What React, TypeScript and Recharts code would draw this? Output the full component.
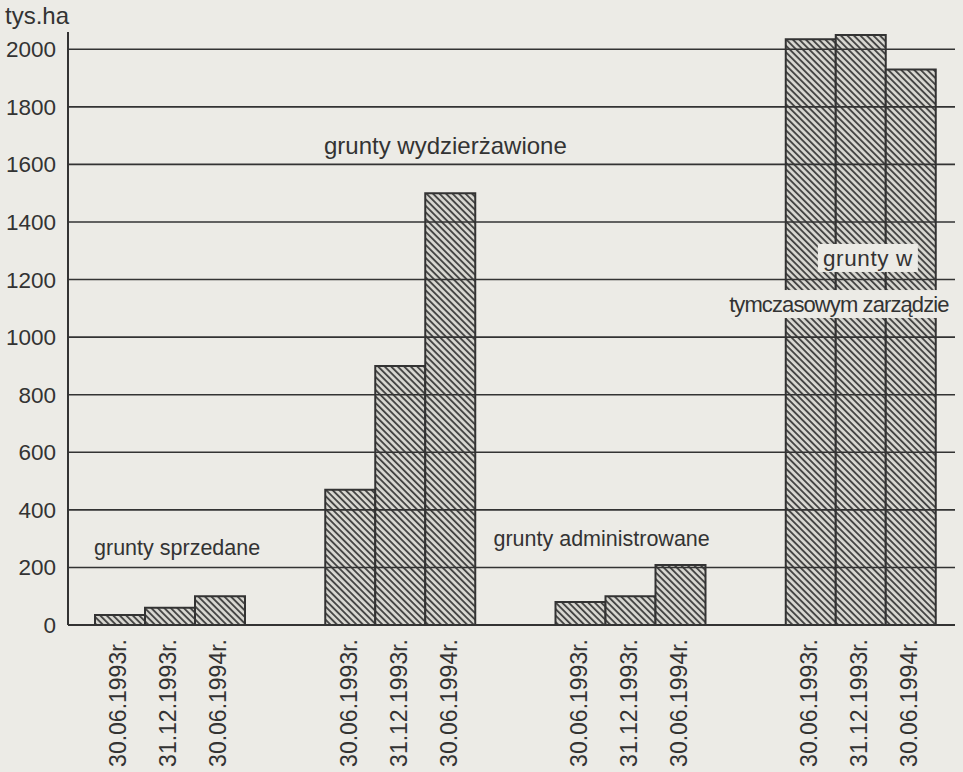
import { Bar, BarChart, ReferenceDot, ReferenceLine, XAxis, YAxis } from 'recharts'

const groups = ['sprzedane', 'wydzierżawione', 'administrowane', 'tymczasowe']
const dates = ['30.06.1993r.', '31.12.1993r.', '30.06.1994r.']
const valuesJun1993 = [35, 470, 80, 2035]
const valuesDec1993 = [60, 900, 100, 2050]
const valuesJun1994 = [100, 1500, 208, 1930]
const yTicks = [0, 200, 400, 600, 800, 1000, 1200, 1400, 1600, 1800, 2000]

const data = groups.map((g, i) => ({
  group: g,
  d0: valuesJun1993[i],
  d1: valuesDec1993[i],
  d2: valuesJun1994[i],
}))

const FONT = '"Liberation Sans", Arial, sans-serif'
const INK = '#333333'
const BG = '#ecebe6'
const BAR = 50

function DateTicks(props: any) {
  const { x, y } = props
  return (
    <g>
      {dates.map((d, i) => {
        const cx = x + (i - 1) * BAR - 2
        const ty = y + 6
        return (
          <text
            key={d}
            x={cx}
            y={ty}
            dy="0.36em"
            transform={`rotate(-90 ${cx} ${ty})`}
            textAnchor="end"
            fontSize={23}
            fontFamily={FONT}
            fill={INK}
          >
            {d}
          </text>
        )
      })}
    </g>
  )
}

function Annot({ cx, cy, text, dx, boxed, size = 21, spacing = 0, boxW = 0 }: any) {
  return (
    <g>
      {boxed && <rect x={cx + dx - boxW / 2} y={cy - 14} width={boxW} height={28} fill={BG} />}
      <text
        x={cx + dx}
        y={cy}
        dy="0.35em"
        textAnchor="middle"
        fontSize={size}
        letterSpacing={spacing}
        fontFamily={FONT}
        fill={INK}
      >
        {text}
      </text>
    </g>
  )
}

export default function App() {
  return (
    <div style={{ position: 'absolute', left: 0, top: 0, width: 963, height: 772, background: BG }}>
      <div
        style={{
          position: 'absolute',
          left: 5,
          top: 3,
          fontFamily: FONT,
          fontSize: 24,
          lineHeight: '25px',
          color: INK,
        }}
      >
        tys.ha
      </div>
      <BarChart
        width={963}
        height={772}
        data={data}
        margin={{ top: 32, right: 8, left: 0, bottom: 7 }}
        barGap={0}
        barSize={BAR}
      >
        <defs>
          <pattern
            id="hatch"
            patternUnits="userSpaceOnUse"
            width={4.6}
            height={4.6}
            patternTransform="rotate(45)"
          >
            <rect width={4.6} height={4.6} fill="#d9d8d2" />
            <line x1={0} y1={1} x2={4.6} y2={1} stroke="#3e3e3e" strokeWidth={1.8} />
          </pattern>
        </defs>
        <XAxis
          dataKey="group"
          height={140}
          padding={{ left: -13, right: -21 }}
          axisLine={{ stroke: INK, strokeWidth: 2 }}
          tickLine={false}
          tick={<DateTicks />}
          interval={0}
        />
        <YAxis
          width={68}
          domain={[0, 2060]}
          ticks={yTicks}
          interval={0}
          axisLine={{ stroke: INK, strokeWidth: 2 }}
          tickLine={false}
          tickMargin={6}
          tick={{ fontSize: 22.5, fill: INK, fontFamily: FONT }}
        />
        {['d0', 'd1', 'd2'].map((k) => (
          <Bar
            key={k}
            dataKey={k}
            fill="url(#hatch)"
            stroke={INK}
            strokeWidth={2}
            isAnimationActive={false}
          />
        ))}
        {yTicks.slice(1).map((v) => (
          <ReferenceLine key={v} y={v} stroke={INK} strokeWidth={1.6} />
        ))}
        <ReferenceDot
          x={groups[0]}
          y={270}
          r={0}
          shape={(p: any) => <Annot cx={p.cx} cy={p.cy} dx={7} size={21.5} text="grunty sprzedane" />}
        />
        <ReferenceDot
          x={groups[1]}
          y={1667}
          r={0}
          shape={(p: any) => <Annot cx={p.cx} cy={p.cy} dx={45} size={24} text="grunty wydzierżawione" />}
        />
        <ReferenceDot
          x={groups[2]}
          y={302}
          r={0}
          shape={(p: any) => <Annot cx={p.cx} cy={p.cy} dx={-29} size={21.5} text="grunty administrowane" />}
        />
        <ReferenceDot
          x={groups[3]}
          y={1275}
          r={0}
          shape={(p: any) => (
            <Annot cx={p.cx} cy={p.cy} dx={7} boxed boxW={100} size={22.5} spacing={0.6} text="grunty w" />
          )}
        />
        <ReferenceDot
          x={groups[3]}
          y={1115}
          r={0}
          shape={(p: any) => (
            <Annot cx={p.cx} cy={p.cy} dx={-22} boxed boxW={216} size={22} spacing={-0.9} text="tymczasowym zarządzie" />
          )}
        />
      </BarChart>
    </div>
  )
}
